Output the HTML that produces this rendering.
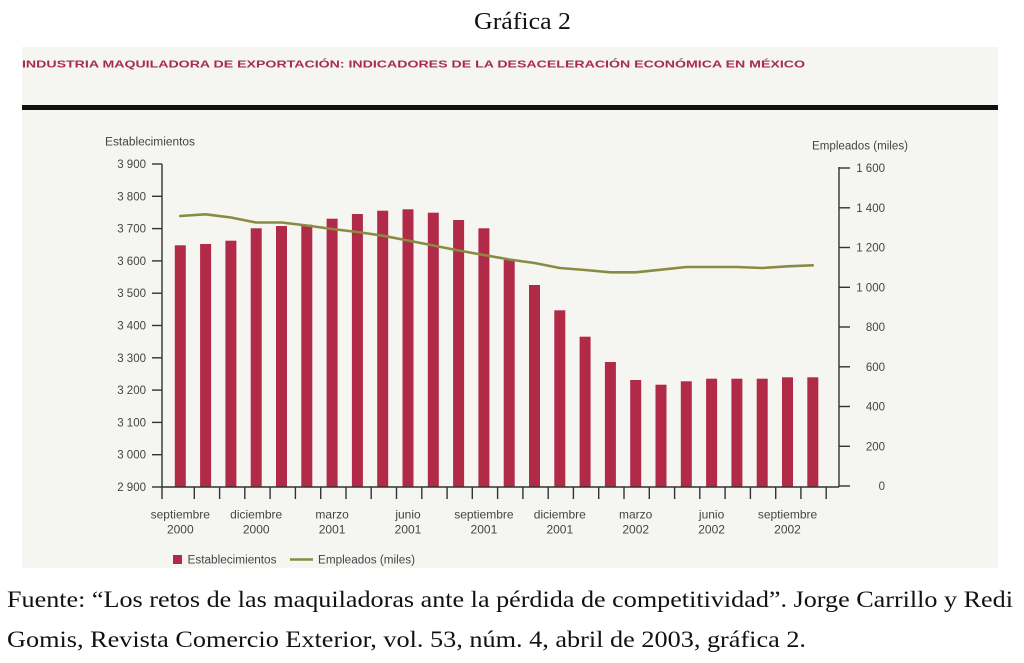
<!DOCTYPE html>
<html>
<head>
<meta charset="utf-8">
<style>
  html,body{margin:0;padding:0;background:#fff;}
  svg{display:block;}
  .sans{font-family:"Liberation Sans",sans-serif;}
  .serif{font-family:"Liberation Serif",serif;}
</style>
</head>
<body>
<svg width="1024" height="663" viewBox="0 0 1024 663" xmlns="http://www.w3.org/2000/svg">
  <rect x="0" y="0" width="1024" height="663" fill="#ffffff"/>
  <!-- Heading -->
  <text class="serif" x="474" y="29" font-size="24" fill="#111" textLength="97" lengthAdjust="spacingAndGlyphs">Gráfica 2</text>

  <!-- Panel -->
  <rect x="22" y="47" width="976" height="521" fill="#f5f5f1"/>
  <text class="sans" x="22" y="67.5" font-size="10.5" font-weight="bold" fill="#a82a4c" textLength="783" lengthAdjust="spacingAndGlyphs">INDUSTRIA MAQUILADORA DE EXPORTACIÓN: INDICADORES DE LA DESACELERACIÓN ECONÓMICA EN MÉXICO</text>
  <rect x="22" y="105" width="976" height="5" fill="#111"/>

  <!-- Axis titles -->
  <text class="sans" x="105" y="145.5" font-size="11.5" fill="#444" textLength="90" lengthAdjust="spacingAndGlyphs">Establecimientos</text>
  <text class="sans" x="812" y="149.5" font-size="11.5" fill="#444" textLength="96" lengthAdjust="spacingAndGlyphs">Empleados (miles)</text>

  <!-- Bars -->
  <g fill="#b12a48">
    <rect x="174.8" y="245.3" width="11" height="241.7"/>
    <rect x="200.1" y="244.0" width="11" height="243.0"/>
    <rect x="225.4" y="240.7" width="11" height="246.3"/>
    <rect x="250.7" y="228.3" width="11" height="258.7"/>
    <rect x="276.0" y="226.0" width="11" height="261.0"/>
    <rect x="301.3" y="224.7" width="11" height="262.3"/>
    <rect x="326.6" y="218.7" width="11" height="268.3"/>
    <rect x="351.9" y="214.0" width="11" height="273.0"/>
    <rect x="377.2" y="210.7" width="11" height="276.3"/>
    <rect x="402.5" y="209.3" width="11" height="277.7"/>
    <rect x="427.8" y="212.7" width="11" height="274.3"/>
    <rect x="453.1" y="220.0" width="11" height="267.0"/>
    <rect x="478.4" y="228.3" width="11" height="258.7"/>
    <rect x="503.7" y="260.0" width="11" height="227.0"/>
    <rect x="529.0" y="285.0" width="11" height="202.0"/>
    <rect x="554.3" y="310.3" width="11" height="176.7"/>
    <rect x="579.6" y="336.7" width="11" height="150.3"/>
    <rect x="604.9" y="362.0" width="11" height="125.0"/>
    <rect x="630.2" y="380.0" width="11" height="107.0"/>
    <rect x="655.5" y="384.7" width="11" height="102.3"/>
    <rect x="680.8" y="381.3" width="11" height="105.7"/>
    <rect x="706.1" y="378.7" width="11" height="108.3"/>
    <rect x="731.4" y="378.7" width="11" height="108.3"/>
    <rect x="756.7" y="378.7" width="11" height="108.3"/>
    <rect x="782.0" y="377.3" width="11" height="109.7"/>
    <rect x="807.3" y="377.3" width="11" height="109.7"/>
  </g>

  <!-- Line -->
  <polyline fill="none" stroke="#8a8b42" stroke-width="2.6" stroke-linejoin="round" stroke-linecap="round"
    points="180.3,216 205.6,214.3 230.9,217.5 256.2,222.5 281.5,222.5 306.8,225.5 332.1,229 357.4,232 382.7,235.7 408,240.5 433.3,245.5 458.6,250.5 483.9,255 509.2,259.5 534.5,263 559.8,268 585.1,270 610.4,272.3 635.7,272.3 661,269.7 686.3,267 711.6,267 736.9,267 762.2,268 787.5,266.3 812.8,265.3"/>

  <!-- Axes -->
  <g stroke="#333" stroke-width="1.4" fill="none">
    <line x1="162" y1="164" x2="162" y2="499"/>
    <line x1="162" y1="487" x2="839" y2="487"/>
    <line x1="839" y1="167" x2="839" y2="487"/>
    <line x1="152" y1="487" x2="162" y2="487"/>
    <line x1="152" y1="454.7" x2="162" y2="454.7"/>
    <line x1="152" y1="422.4" x2="162" y2="422.4"/>
    <line x1="152" y1="390.1" x2="162" y2="390.1"/>
    <line x1="152" y1="357.8" x2="162" y2="357.8"/>
    <line x1="152" y1="325.5" x2="162" y2="325.5"/>
    <line x1="152" y1="293.2" x2="162" y2="293.2"/>
    <line x1="152" y1="260.9" x2="162" y2="260.9"/>
    <line x1="152" y1="228.6" x2="162" y2="228.6"/>
    <line x1="152" y1="196.3" x2="162" y2="196.3"/>
    <line x1="152" y1="164" x2="162" y2="164"/>
    <line x1="839" y1="486" x2="850" y2="486"/>
    <line x1="839" y1="446.3" x2="850" y2="446.3"/>
    <line x1="839" y1="406.5" x2="850" y2="406.5"/>
    <line x1="839" y1="366.8" x2="850" y2="366.8"/>
    <line x1="839" y1="327" x2="850" y2="327"/>
    <line x1="839" y1="287.3" x2="850" y2="287.3"/>
    <line x1="839" y1="247.5" x2="850" y2="247.5"/>
    <line x1="839" y1="207.8" x2="850" y2="207.8"/>
    <line x1="839" y1="168" x2="850" y2="168"/>
    <line x1="194.3" y1="487" x2="194.3" y2="499"/>
    <line x1="219.6" y1="487" x2="219.6" y2="499"/>
    <line x1="244.8" y1="487" x2="244.8" y2="499"/>
    <line x1="270.1" y1="487" x2="270.1" y2="499"/>
    <line x1="295.4" y1="487" x2="295.4" y2="499"/>
    <line x1="320.7" y1="487" x2="320.7" y2="499"/>
    <line x1="346.0" y1="487" x2="346.0" y2="499"/>
    <line x1="371.2" y1="487" x2="371.2" y2="499"/>
    <line x1="396.5" y1="487" x2="396.5" y2="499"/>
    <line x1="421.8" y1="487" x2="421.8" y2="499"/>
    <line x1="447.1" y1="487" x2="447.1" y2="499"/>
    <line x1="472.3" y1="487" x2="472.3" y2="499"/>
    <line x1="497.6" y1="487" x2="497.6" y2="499"/>
    <line x1="522.9" y1="487" x2="522.9" y2="499"/>
    <line x1="548.2" y1="487" x2="548.2" y2="499"/>
    <line x1="573.4" y1="487" x2="573.4" y2="499"/>
    <line x1="598.7" y1="487" x2="598.7" y2="499"/>
    <line x1="624.0" y1="487" x2="624.0" y2="499"/>
    <line x1="649.3" y1="487" x2="649.3" y2="499"/>
    <line x1="674.6" y1="487" x2="674.6" y2="499"/>
    <line x1="699.8" y1="487" x2="699.8" y2="499"/>
    <line x1="725.1" y1="487" x2="725.1" y2="499"/>
    <line x1="750.4" y1="487" x2="750.4" y2="499"/>
    <line x1="775.7" y1="487" x2="775.7" y2="499"/>
    <line x1="800.9" y1="487" x2="800.9" y2="499"/>
    <line x1="826.2" y1="487" x2="826.2" y2="499"/>
  </g>

  <!-- Left tick labels -->
  <g class="sans" font-size="11.5" fill="#444" text-anchor="end">
    <text x="146" y="491">2 900</text>
    <text x="146" y="458.7">3 000</text>
    <text x="146" y="426.4">3 100</text>
    <text x="146" y="394.1">3 200</text>
    <text x="146" y="361.8">3 300</text>
    <text x="146" y="329.5">3 400</text>
    <text x="146" y="297.2">3 500</text>
    <text x="146" y="264.9">3 600</text>
    <text x="146" y="232.6">3 700</text>
    <text x="146" y="200.3">3 800</text>
    <text x="146" y="168">3 900</text>
  </g>

  <!-- Right tick labels -->
  <g class="sans" font-size="11.5" fill="#444" text-anchor="end">
    <text x="885" y="490">0</text>
    <text x="885" y="450.3">200</text>
    <text x="885" y="410.5">400</text>
    <text x="885" y="370.8">600</text>
    <text x="885" y="331">800</text>
    <text x="885" y="291.3">1 000</text>
    <text x="885" y="251.5">1 200</text>
    <text x="885" y="211.8">1 400</text>
    <text x="885" y="172">1 600</text>
  </g>

  <!-- X labels -->
  <g class="sans" font-size="12" fill="#444" text-anchor="middle">
    <text x="180.3" y="518.5">septiembre</text><text x="180.3" y="533.5">2000</text>
    <text x="256.2" y="518.5">diciembre</text><text x="256.2" y="533.5">2000</text>
    <text x="332.1" y="518.5">marzo</text><text x="332.1" y="533.5">2001</text>
    <text x="408" y="518.5">junio</text><text x="408" y="533.5">2001</text>
    <text x="483.9" y="518.5">septiembre</text><text x="483.9" y="533.5">2001</text>
    <text x="559.8" y="518.5">diciembre</text><text x="559.8" y="533.5">2001</text>
    <text x="635.7" y="518.5">marzo</text><text x="635.7" y="533.5">2002</text>
    <text x="711.6" y="518.5">junio</text><text x="711.6" y="533.5">2002</text>
    <text x="787.5" y="518.5">septiembre</text><text x="787.5" y="533.5">2002</text>
  </g>

  <!-- Legend -->
  <rect x="173" y="555" width="9" height="9" fill="#b12a48"/>
  <text class="sans" x="187.5" y="563.5" font-size="11.5" fill="#444" textLength="89" lengthAdjust="spacingAndGlyphs">Establecimientos</text>
  <line x1="290" y1="559.5" x2="313" y2="559.5" stroke="#8a8b42" stroke-width="2.4"/>
  <text class="sans" x="318" y="563.5" font-size="11.5" fill="#444" textLength="97" lengthAdjust="spacingAndGlyphs">Empleados (miles)</text>

  <!-- Footer -->
  <text class="serif" x="7" y="607" font-size="23" fill="#111" textLength="1006" lengthAdjust="spacingAndGlyphs">Fuente: “Los retos de las maquiladoras ante la pérdida de competitividad”. Jorge Carrillo y Redi</text>
  <text class="serif" x="7" y="647" font-size="23" fill="#111" textLength="799" lengthAdjust="spacingAndGlyphs">Gomis, Revista Comercio Exterior, vol. 53, núm. 4, abril de 2003, gráfica 2.</text>
</svg>
</body>
</html>
